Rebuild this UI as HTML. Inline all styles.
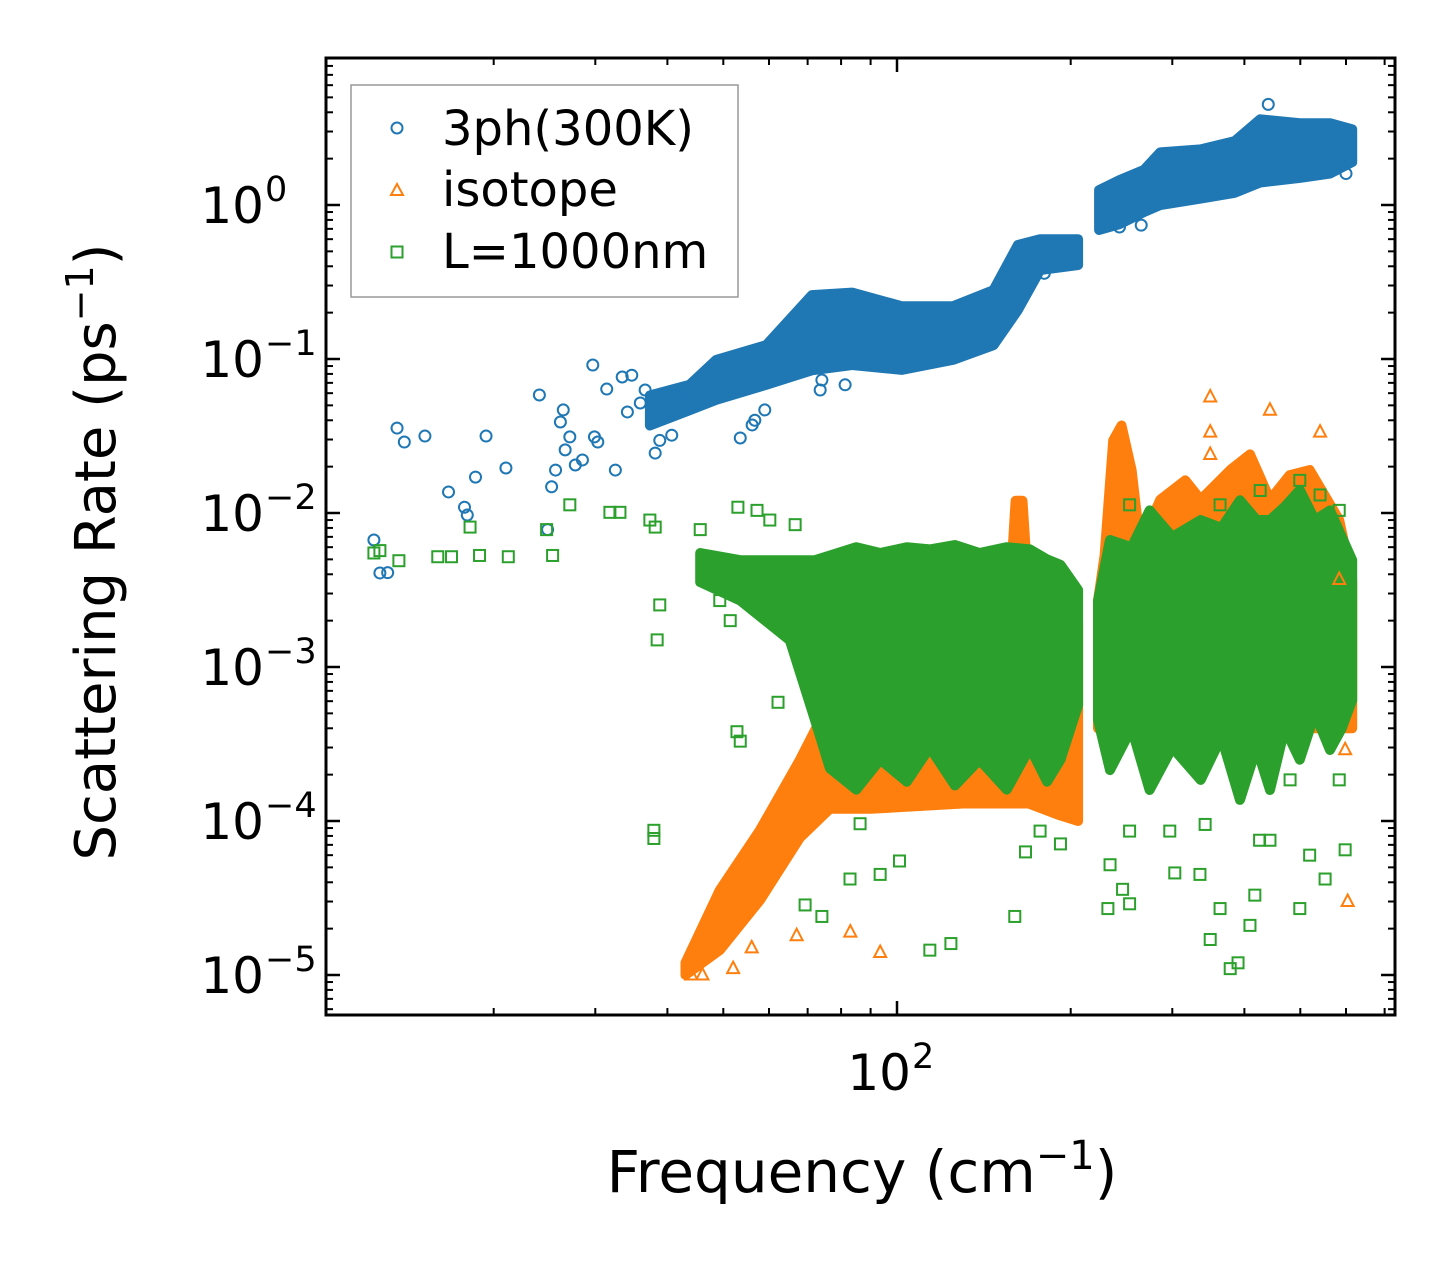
<!DOCTYPE html>
<html><head><meta charset="utf-8"><style>
html,body{margin:0;padding:0;background:#fff;}
svg{display:block;font-family:"DejaVu Sans","Liberation Sans",sans-serif;}
</style></head><body>
<svg id="chart" width="1455" height="1265" viewBox="0 0 1455 1265" xmlns="http://www.w3.org/2000/svg">
<rect x="0" y="0" width="1455" height="1265" fill="#fff"/>
<g id="bands"></g>
<g id="marks"></g>
<g id="axes"></g>
<text x="862" y="1192" font-size="58" text-anchor="middle">Frequency (cm<tspan dy="-23" font-size="40">−1</tspan><tspan dy="23">)</tspan></text>
<text transform="translate(115,552) rotate(-90)" font-size="56" text-anchor="middle">Scattering Rate (ps<tspan dy="-22" font-size="38">−1</tspan><tspan dy="22">)</tspan></text>
<g>
<rect x="351" y="85" width="387" height="212" fill="#fff" fill-opacity="0.8" stroke="#999" stroke-width="1.5"/>
<circle cx="397" cy="128" r="5.5" fill="none" stroke="#1f77b4" stroke-width="2"/>
<text x="442" y="145" font-size="48">3ph(300K)</text>
<polygon points="397,184 403,195 391,195" fill="none" stroke="#ff7f0e" stroke-width="2"/>
<text x="442" y="206" font-size="48">isotope</text>
<rect x="391.5" y="246.5" width="11" height="11" fill="none" stroke="#2ca02c" stroke-width="2"/>
<text x="442" y="268" font-size="48">L=1000nm</text>
</g>
</svg>
<script>
// ---- data ----
const blueBandF  = [37.3,43.7,48.6,59.3,71.2,83.6,102,125,147,162,177,206];
const blueBandLo = [0.037,0.0465,0.0543,0.068,0.0845,0.0914,0.0849,0.0986,0.123,0.208,0.378,0.408];
const blueBandHi = [0.058,0.068,0.0986,0.123,0.26,0.27,0.22,0.22,0.28,0.55,0.6,0.6];
const blueBand2F  = [224,243,268,286,336,385,426,499,563,615];
const blueBand2Lo = [0.688,0.75,0.9,1.0,1.1,1.2,1.4,1.5,1.6,1.9];
const blueBand2Hi = [1.25,1.45,1.69,2.2,2.3,2.6,3.6,3.4,3.4,3.1];
const blueF = [12.4,12.7,13.1,13.6,14.0,15.2,16.7,17.8,18.0,18.6,19.4,21.0,24.0,24.8,25.2,25.6,26.1,26.4,26.6,27.1,27.7,28.5,29.7,29.9,30.3,31.4,32.5,33.4,34.1,34.7,35.9,36.6,38.1,38.8,40.7,42.1,46.5,53.5,56.1,56.7,59.0,73.6,74.1,81.3,243,265,180,440,600];
const blueR = [0.00668,0.00408,0.0041,0.0356,0.0289,0.0316,0.0137,0.0109,0.0097,0.0171,0.0316,0.0196,0.0584,0.0078,0.0148,0.019,0.039,0.0467,0.0257,0.0312,0.0205,0.0221,0.0914,0.0312,0.0289,0.0638,0.019,0.0764,0.0453,0.0785,0.0518,0.0629,0.0245,0.0296,0.032,0.0584,0.0699,0.0307,0.0373,0.040,0.0467,0.0629,0.073,0.068,0.72,0.74,0.36,4.5,1.6];

const isoBandF  = [43.0,49.3,57.9,67.9,76.5,90,130,157,160.5,165,169,190,206];
const isoBandLo = [1e-5,1.45e-5,3.07e-5,7.8e-5,1.2e-4,1.2e-4,1.3e-4,1.3e-4,1.3e-4,1.3e-4,1.3e-4,1.1e-4,1e-4];
const isoBandHi = [1.2e-5,3.56e-5,8.75e-5,2.5e-4,6e-4,0.002,0.002,0.003,0.012,0.012,0.003,0.002,0.002];
const isoBand2F  = [223,229,237,245,255,264,286,316,336,378,409,443,479,519,584,615];
const isoBand2Lo = [4e-4,4e-4,4e-4,4e-4,4e-4,4e-4,4e-4,4e-4,4e-4,4e-4,4e-4,4e-4,4e-4,4e-4,4e-4,4e-4];
const isoBand2Hi = [0.0027,0.0053,0.0296,0.037,0.019,0.0062,0.0122,0.0163,0.0122,0.019,0.024,0.0122,0.0176,0.019,0.009,0.00366];
const isoF = [349,443,541,349,604,598,83,93.5,67,349,584,44,46,52,56];
const isoR = [0.0567,0.0465,0.0335,0.0335,3e-5,0.00029,1.9e-5,1.4e-5,1.8e-5,0.024,0.0037,1e-5,1e-5,1.1e-5,1.5e-5];

const bndBandF  = [45.6,53.5,65.2,72.1,76.5,85,93.5,104,114,126,139,155,170,182,192,206];
const bndBandLo = [0.00356,0.0027,0.00149,0.000453,0.00022,0.00016,0.00025,0.00018,0.0003,0.00017,0.00025,0.00016,0.0003,0.00018,0.00025,0.000566];
const bndBandHi = [0.0055,0.00494,0.00494,0.00494,0.0053,0.006,0.0055,0.006,0.0058,0.0062,0.0055,0.006,0.0058,0.005,0.0046,0.00316];
const bndBand2F  = [223,234,255,274,300,336,365,393,420,443,470,499,530,563,590,615];
const bndBand2Lo = [0.000453,0.000214,0.0004,0.000159,0.0003,0.000185,0.00035,0.000137,0.0003,0.000159,0.0004,0.00025,0.0005,0.000289,0.0004,0.00061];
const bndBand2Hi = [0.0027,0.00668,0.006,0.0104,0.007,0.009,0.008,0.0121,0.009,0.009,0.011,0.0141,0.009,0.0104,0.007,0.00494];
const bndF = [12.4,12.7,13.7,16.0,16.9,18.2,18.9,21.2,24.7,25.3,27.1,31.8,33.1,37.3,38.1,38.4,37.9,37.9,38.8,45.6,53.0,57.2,60.2,66.6,46.5,49.3,51.4,52.8,53.5,62.2,69.3,74.1,82.9,86.3,93.5,101,114,124,160,167,177,192,232,246,253,303,335,363,378,390,409,417,443,499,519,552,598,584,480,425,342,297,253,234,349,253,363,426,499,541,584,584];
const bndR = [0.0055,0.0057,0.0049,0.0052,0.0052,0.0081,0.0053,0.0052,0.0078,0.0053,0.0113,0.0101,0.0101,0.009,0.0081,0.0015,8.7e-5,7.7e-5,0.00253,0.0078,0.0109,0.0104,0.009,0.0084,0.00366,0.0027,0.002,0.00038,0.00033,0.00059,2.85e-5,2.4e-5,4.2e-5,9.6e-5,4.5e-5,5.5e-5,1.45e-5,1.6e-5,2.4e-5,6.3e-5,8.6e-5,7.1e-5,2.7e-5,3.6e-5,2.9e-5,4.6e-5,4.5e-5,2.7e-5,1.1e-5,1.2e-5,2.1e-5,3.3e-5,7.5e-5,2.7e-5,6.0e-5,4.2e-5,6.5e-5,0.000185,0.000185,7.5e-5,9.5e-5,8.6e-5,8.6e-5,5.2e-5,1.7e-5,0.0113,0.0113,0.014,0.0163,0.0131,0.0067,0.0104];

const yTickExps = [0,-1,-2,-3,-4,-5];
const xTickExps = [2];

// ---- axes functions ----
const PL=326, PR=1395, PT=58, PB=1015;
function xs(f){ return 897 + 577*Math.log10(f/100); }
function ys(v){ return 205 - 154*Math.log10(v); }
const NS='http://www.w3.org/2000/svg';
function mk(tag, attrs, parent){ const e=document.createElementNS(NS,tag); for(const k in attrs) e.setAttribute(k,attrs[k]); parent.appendChild(e); return e; }

const bands=document.getElementById('bands'), marks=document.getElementById('marks'), axes=document.getElementById('axes');

function band(F,Lo,Hi,color,name){
  const pts=[];
  for(let i=0;i<F.length;i++) pts.push(xs(F[i]).toFixed(1)+','+ys(Hi[i]).toFixed(1));
  for(let i=F.length-1;i>=0;i--) pts.push(xs(F[i]).toFixed(1)+','+ys(Lo[i]).toFixed(1));
  const p=mk('polygon',{points:pts.join(' '),fill:color,stroke:color,'stroke-width':10,'stroke-linejoin':'round'},bands);
  
  
}
band(blueBandF,blueBandLo,blueBandHi,'#1f77b4','band-3ph-low');
band(blueBand2F,blueBand2Lo,blueBand2Hi,'#1f77b4','band-3ph-high');
band(isoBandF,isoBandLo,isoBandHi,'#ff7f0e','band-isotope-low');
band(isoBand2F,isoBand2Lo,isoBand2Hi,'#ff7f0e','band-isotope-high');
band(bndBandF,bndBandLo,bndBandHi,'#2ca02c','band-boundary-low');
band(bndBand2F,bndBand2Lo,bndBand2Hi,'#2ca02c','band-boundary-high');

for(let i=0;i<blueF.length;i++){
  const c=mk('circle',{cx:xs(blueF[i]),cy:ys(blueR[i]),r:5.5,fill:'none',stroke:'#1f77b4','stroke-width':2},marks);
  
  
}
for(let i=0;i<isoF.length;i++){
  const x=xs(isoF[i]), y=ys(isoR[i]);
  const t=mk('polygon',{points:`${x},${y-7} ${x+6},${y+4.5} ${x-6},${y+4.5}`,fill:'none',stroke:'#ff7f0e','stroke-width':2},marks);
  
  
}
for(let i=0;i<bndF.length;i++){
  const s=mk('rect',{x:xs(bndF[i])-5.5,y:ys(bndR[i])-5.5,width:11,height:11,fill:'none',stroke:'#2ca02c','stroke-width':2},marks);
  
  
}

// frame
const fr=mk('rect',{x:PL,y:PT,width:PR-PL,height:PB-PT,fill:'none',stroke:'#000','stroke-width':3},axes);



// y ticks
for(const e of yTickExps){
  const y=ys(Math.pow(10,e));
  mk('line',{x1:PL,x2:PL+14,y1:y,y2:y,stroke:'#000','stroke-width':2.5},axes);
  mk('line',{x1:PR,x2:PR-14,y1:y,y2:y,stroke:'#000','stroke-width':2.5},axes);
  const t=mk('text',{x:264,y:y+18,'font-size':50,'text-anchor':'end'},axes);
  t.textContent='10';
  
  
  const s=mk('text',{x:265,y:y-4,'font-size':35,'text-anchor':'start'},axes);
  s.textContent=(e<0?'−':'')+Math.abs(e);
  
  
}
for(let e=-6;e<=1;e++){
  for(let m=2;m<=9;m++){
    const y=ys(m*Math.pow(10,e));
    if(y<PT+1||y>PB-1) continue;
    mk('line',{x1:PL,x2:PL+7,y1:y,y2:y,stroke:'#000','stroke-width':2},axes);
    mk('line',{x1:PR,x2:PR-7,y1:y,y2:y,stroke:'#000','stroke-width':2},axes);
  }
}
// x ticks
for(const e of xTickExps){
  const x=xs(Math.pow(10,e));
  mk('line',{x1:x,x2:x,y1:PB,y2:PB-14,stroke:'#000','stroke-width':2.5},axes);
  mk('line',{x1:x,x2:x,y1:PT,y2:PT+14,stroke:'#000','stroke-width':2.5},axes);
  const t=mk('text',{x:x+14,y:1090,'font-size':50,'text-anchor':'end'},axes);
  t.textContent='10';
  
  
  const s=mk('text',{x:x+15,y:1068,'font-size':35},axes);
  s.textContent=String(e);
  
  
}
for(let e=1;e<=2;e++){
  for(let m=2;m<=9;m++){
    const x=xs(m*Math.pow(10,e));
    if(x<PL+1||x>PR-1) continue;
    mk('line',{x1:x,x2:x,y1:PB,y2:PB-7,stroke:'#000','stroke-width':2},axes);
    mk('line',{x1:x,x2:x,y1:PT,y2:PT+7,stroke:'#000','stroke-width':2},axes);
  }
}
</script>
</body></html>
